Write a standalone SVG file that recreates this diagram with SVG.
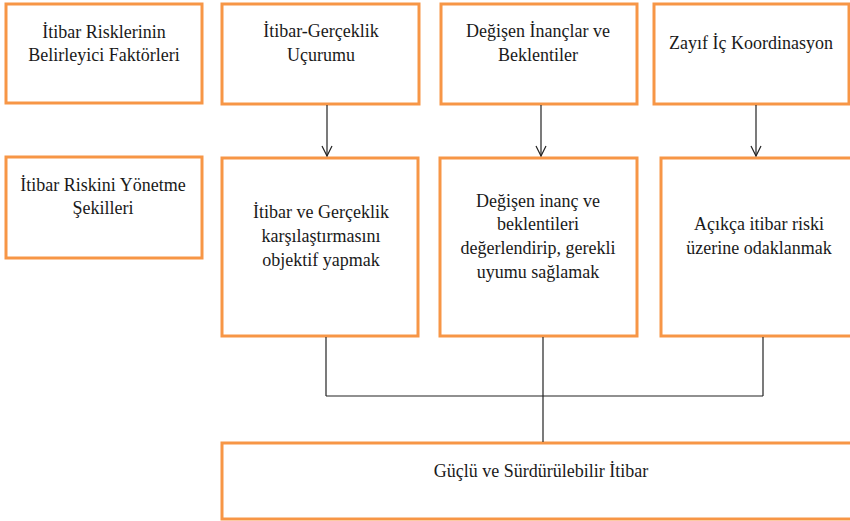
<svg xmlns="http://www.w3.org/2000/svg" width="850" height="521" viewBox="0 0 850 521">
<defs>
<style>
.box{fill:#ffffff;stroke:#F79646;stroke-width:3}
.t{font-family:"Liberation Serif","Times New Roman",serif;font-size:18px;fill:#1a1a1a;text-anchor:middle}
.ln{stroke:#222;stroke-width:1.2;fill:none}
</style>
<marker id="arr" viewBox="0 0 12 12" refX="11" refY="6" markerWidth="12" markerHeight="12" markerUnits="userSpaceOnUse" orient="auto">
<path d="M1,1 L11,6 L1,11" fill="none" stroke="#222" stroke-width="1.2"/>
</marker>
</defs>
<rect width="850" height="521" fill="#ffffff"/>
<g id="n1"><rect class="box" x="6" y="4" width="196" height="99"/>
<text class="t" x="104" y="38">İtibar Risklerinin</text><text class="t" x="104" y="61">Belirleyici Faktörleri</text></g>
<g id="n2"><rect class="box" x="222" y="4" width="197" height="100"/>
<text class="t" x="321" y="37">İtibar-Gerçeklik</text><text class="t" x="321" y="61">Uçurumu</text></g>
<g id="n3"><rect class="box" x="441" y="4" width="196" height="100"/>
<text class="t" x="538" y="37">Değişen İnançlar ve</text><text class="t" x="538" y="61">Beklentiler</text></g>
<g id="n4"><rect class="box" x="654" y="4" width="195" height="100"/>
<text class="t" x="751" y="49">Zayıf İç Koordinasyon</text></g>
<g id="n5"><rect class="box" x="6" y="157" width="196" height="101"/>
<text class="t" x="103" y="191">İtibar Riskini Yönetme</text><text class="t" x="103" y="214">Şekilleri</text></g>
<g id="n6"><rect class="box" x="222" y="158" width="196" height="178"/>
<text class="t" x="321" y="218">İtibar ve Gerçeklik</text><text class="t" x="321" y="242">karşılaştırmasını</text><text class="t" x="321" y="266">objektif yapmak</text></g>
<g id="n7"><rect class="box" x="440" y="158" width="197" height="178"/>
<text class="t" x="538" y="207">Değişen inanç ve</text><text class="t" x="538" y="230">beklentileri</text><text class="t" x="538" y="254">değerlendirip, gerekli</text><text class="t" x="538" y="278">uyumu sağlamak</text></g>
<g id="n8"><rect class="box" x="661" y="158" width="200" height="178"/>
<text class="t" x="759" y="230">Açıkça itibar riski</text><text class="t" x="759" y="254">üzerine odaklanmak</text></g>
<g id="n9"><rect class="box" x="222" y="443" width="640" height="76"/>
<text class="t" x="541" y="477">Güçlü ve Sürdürülebilir İtibar</text></g>
<g id="connectors">
<line class="ln" x1="327" y1="105" x2="327" y2="156" marker-end="url(#arr)"/>
<line class="ln" x1="541" y1="105" x2="541" y2="156" marker-end="url(#arr)"/>
<line class="ln" x1="756" y1="105" x2="756" y2="156" marker-end="url(#arr)"/>
<line class="ln" x1="326" y1="337" x2="326" y2="396"/>
<line class="ln" x1="763" y1="337" x2="763" y2="396"/>
<line class="ln" x1="326" y1="396" x2="763" y2="396"/>
<line class="ln" x1="543" y1="337" x2="543" y2="442"/>
</g>
</svg>
